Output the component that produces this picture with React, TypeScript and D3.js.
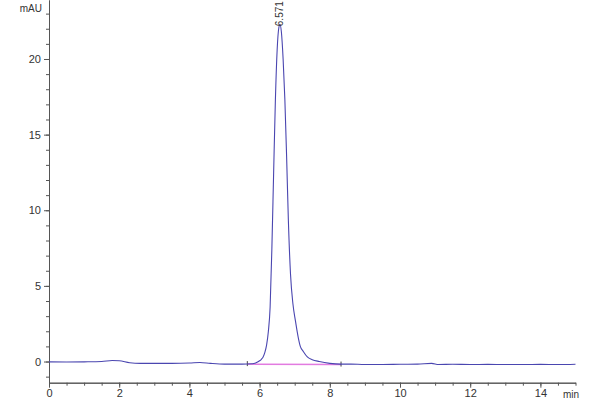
import React, { useEffect, useRef } from 'react';
import * as d3 from 'd3';

// chromatogram trace (min, mAU)
const times = [
  0, 0.5, 1.0, 1.5, 1.8, 2.0, 2.3, 2.6, 3.0, 3.5, 4.0, 4.3, 4.6, 5.0, 5.5, 5.8, 5.9, 6.0,
  6.05, 6.1, 6.15, 6.2, 6.25, 6.3, 6.35, 6.4, 6.45, 6.5, 6.55, 6.58, 6.62, 6.67, 6.72, 6.77,
  6.82, 6.88, 6.95, 7.02, 7.1, 7.16, 7.25, 7.36, 7.5, 7.7, 8.0, 8.3, 8.6, 9.0, 9.5, 10.0,
  10.5, 10.9, 11.1, 11.5, 12.0, 12.5, 13.0, 13.5, 14.0, 14.5, 15.0
];
const values = [
  -0.02, -0.03, -0.02, 0.0, 0.07, 0.05, -0.08, -0.12, -0.12, -0.12, -0.1, -0.06, -0.12, -0.17, -0.17, -0.15, -0.08, 0.05,
  0.15, 0.3, 0.6, 1.1, 2.0, 3.6, 7.5, 12.5, 17.3, 20.6, 22.1, 22.3, 21.8, 20.0, 17.3, 13.5,
  9.3, 5.8, 3.8, 2.7, 1.6, 1.0, 0.65, 0.3, 0.12, 0.0, -0.12, -0.17, -0.17, -0.2, -0.2, -0.18,
  -0.17, -0.12, -0.2, -0.18, -0.2, -0.19, -0.2, -0.2, -0.19, -0.2, -0.18
];

// integration baseline
const baselineTimes = [5.65, 8.32];
const baselineValues = [-0.17, -0.2];

const peakTime = 6.571;
const peakHeight = 22.3;
const peakLabel = '6.571';

const yMajorTicks = [0, 5, 10, 15, 20];
const xMajorTicks = [0, 2, 4, 6, 8, 10, 12, 14];

export default function App() {
  const svgRef = useRef<SVGSVGElement>(null);

  useEffect(() => {
    if (!svgRef.current) return;
    const svg = d3.select(svgRef.current);
    svg.selectAll('*').remove();

    const font = '"Liberation Sans", Arial, sans-serif';
    const axisColor = '#555';

    const x = d3.scaleLinear().domain([0, 15]).range([49, 575.5]);
    const y = d3.scaleLinear().domain([-1.4, 23.9]).range([382.7, 0]);

    // minor ticks
    svg.append('g')
      .attr('transform', `translate(${x(0)},0)`)
      .call(d3.axisLeft(y).tickValues(d3.range(-1, 24)).tickSize(3).tickSizeOuter(0).tickFormat(() => ''))
      .attr('color', axisColor);

    svg.append('g')
      .attr('transform', `translate(0,${y(-1.4)})`)
      .call(d3.axisBottom(x).tickValues(d3.range(0, 15.01, 0.5)).tickSize(3).tickSizeOuter(0).tickFormat(() => ''))
      .attr('color', axisColor);

    // major ticks + labels
    const yAxis = svg.append('g')
      .attr('transform', `translate(${x(0)},0)`)
      .call(d3.axisLeft(y).tickValues(yMajorTicks).tickSize(5).tickSizeOuter(0).tickPadding(3))
      .attr('color', axisColor);
    yAxis.selectAll('text')
      .style('font-family', font)
      .style('font-size', '11px')
      .attr('fill', '#333');

    const xAxis = svg.append('g')
      .attr('transform', `translate(0,${y(-1.4)})`)
      .call(d3.axisBottom(x).tickValues(xMajorTicks).tickSize(5).tickSizeOuter(0).tickPadding(2))
      .attr('color', axisColor);
    xAxis.selectAll('text')
      .style('font-family', font)
      .style('font-size', '11px')
      .attr('fill', '#333');

    svg.append('text')
      .attr('x', 42)
      .attr('y', 12)
      .attr('text-anchor', 'end')
      .style('font-family', font)
      .style('font-size', '10px')
      .attr('fill', '#333')
      .text('mAU');

    svg.append('text')
      .attr('x', 563)
      .attr('y', 398)
      .style('font-family', font)
      .style('font-size', '10px')
      .attr('fill', '#333')
      .text('min');

    // baseline
    const pts = baselineTimes.map((t, i) => [t, baselineValues[i]] as [number, number]);
    svg.append('path')
      .datum(pts)
      .attr('fill', 'none')
      .attr('stroke', '#e27be0')
      .attr('stroke-width', 1.5)
      .attr('d', d3.line<[number, number]>().x(d => x(d[0])).y(d => y(d[1])));
    svg.selectAll('.bl-tick')
      .data(pts)
      .enter()
      .append('line')
      .attr('x1', d => x(d[0]))
      .attr('x2', d => x(d[0]))
      .attr('y1', d => y(d[1]) - 3)
      .attr('y2', d => y(d[1]) + 2)
      .attr('stroke', '#444');

    // trace
    const data = times.map((t, i) => ({ t, v: values[i] }));
    svg.append('path')
      .datum(data)
      .attr('fill', 'none')
      .attr('stroke', '#4a46b0')
      .attr('stroke-width', 1.1)
      .attr('d', d3.line<{ t: number; v: number }>().x(d => x(d.t)).y(d => y(d.v)).curve(d3.curveMonotoneX));

    // peak label
    const lx = x(peakTime) + 3;
    const ly = y(peakHeight) + 2;
    svg.append('text')
      .attr('transform', `translate(${lx},${ly}) rotate(-90)`)
      .style('font-family', font)
      .style('font-size', '10px')
      .attr('fill', '#333')
      .text(peakLabel);
  }, []);

  return (
    <svg
      ref={svgRef}
      width={600}
      height={400}
      style={{ position: 'absolute', left: 0, top: 0, background: '#fff' }}
    />
  );
}
